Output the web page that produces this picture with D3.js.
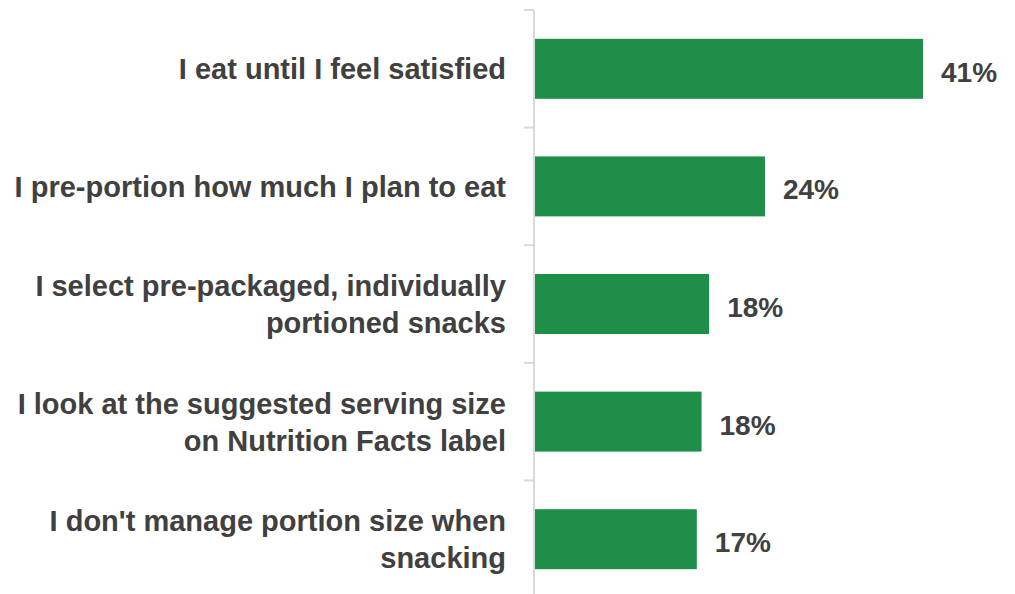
<!DOCTYPE html>
<html>
<head>
<meta charset="utf-8">
<script src="https://cdn.jsdelivr.net/npm/d3@7"></script>
<style>
  html, body { margin: 0; padding: 0; background: #ffffff; }
  svg { display: block; }
</style>
</head>
<body>
<svg id="chart" width="1015" height="594"></svg>
<script>
const categories = [
  "I eat until I feel satisfied",
  "I pre-portion how much I plan to eat",
  "I select pre-packaged, individually\nportioned snacks",
  "I look at the suggested serving size\non Nutrition Facts label",
  "I don't manage portion size when\nsnacking"
];
const values = [41, 24.3, 18.4, 17.6, 17.1];
const valueLabels = ["41%", "24%", "18%", "18%", "17%"];

const svg = d3.select("#chart");
const textColor = "#404040";
const barColor = "#1e8e48";

const y = d3.scaleBand()
  .domain(categories)
  .range([10, 598])
  .paddingInner(0.49)
  .paddingOuter(0.245);

const x = d3.scaleLinear().domain([0, 41]).range([535, 923]);

// axis line and category boundary ticks
const axisX = 534;
svg.append("line")
  .attr("x1", axisX).attr("x2", axisX)
  .attr("y1", y.range()[0]).attr("y2", y.range()[1])
  .attr("stroke", "#d9d9d9").attr("stroke-width", 2);

const boundaries = categories.map(c => y(c) - y.step() * y.paddingInner() / 2);
boundaries.push(y.range()[1]);
svg.selectAll("line.tick").data(boundaries).enter().append("line")
  .attr("class", "tick")
  .attr("x1", axisX - 10).attr("x2", axisX)
  .attr("y1", d => d).attr("y2", d => d)
  .attr("stroke", "#d9d9d9").attr("stroke-width", 2);

// bars
svg.selectAll("rect.bar").data(categories).enter().append("rect")
  .attr("class", "bar")
  .attr("x", x(0))
  .attr("y", d => y(d))
  .attr("width", (d, i) => x(values[i]) - x(0))
  .attr("height", y.bandwidth())
  .attr("fill", barColor);

// value labels
svg.selectAll("text.val").data(categories).enter().append("text")
  .attr("class", "val")
  .attr("x", (d, i) => x(values[i]) + 18)
  .attr("y", d => y(d) + y.bandwidth() / 2 + 13)
  .attr("font-family", "'Liberation Sans', Arial, sans-serif")
  .attr("font-weight", "bold")
  .attr("font-size", 28)
  .attr("fill", textColor)
  .text((d, i) => valueLabels[i]);

// category labels
const lineH = 37;
const labels = svg.selectAll("text.cat").data(categories).enter().append("text")
  .attr("class", "cat")
  .attr("text-anchor", "end")
  .attr("font-family", "'Liberation Sans', Arial, sans-serif")
  .attr("font-weight", "bold")
  .attr("font-size", 29)
  .attr("fill", textColor);

labels.each(function(d) {
  const lines = d.split("\n");
  const cy = y(d) + y.bandwidth() / 2;
  const first = cy - (lines.length - 1) * lineH / 2 + 10.5;
  const t = d3.select(this);
  lines.forEach((ln, k) => {
    t.append("tspan")
      .attr("x", 506)
      .attr("y", first + k * lineH)
      .text(ln);
  });
});
</script>
</body>
</html>
